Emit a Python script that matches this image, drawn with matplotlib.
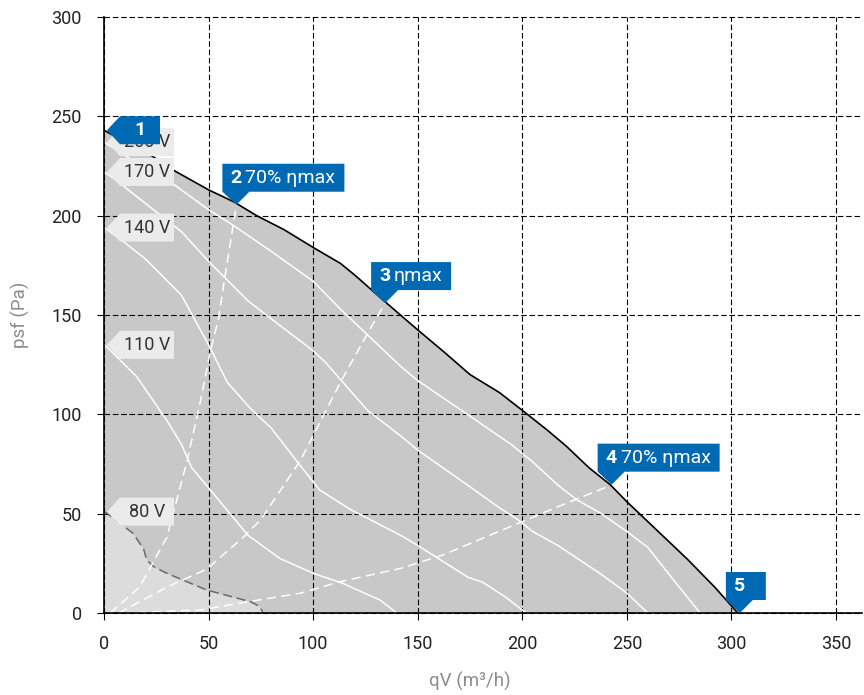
import numpy as np
import matplotlib.pyplot as plt
from matplotlib.patches import Polygon
from matplotlib.transforms import IdentityTransform

plt.rcParams['font.family'] = ['Roboto', 'DejaVu Sans']

# 230 V (max) curve
max_x = [0, 12, 23, 33, 50, 62, 73, 86, 100, 113, 120, 134, 150, 163, 175, 189, 200, 212, 221, 232, 242,
         250, 262, 279, 292, 303]
max_y = [243, 236, 230, 223, 213, 207, 200, 193, 184, 176, 170, 157, 142.5, 131, 120, 111, 102, 92, 84, 73,
         64.6, 56, 44, 27, 13, 0]

# voltage curves (white)
v200_x = [0, 15, 33, 50, 62, 80, 100, 113, 128, 142, 150, 173, 195, 205, 217, 226, 237, 250, 260, 272, 285]
v200_y = [237, 227, 216, 203, 195, 182, 167, 153, 138, 124, 117, 100.5, 84.6, 76, 64.4, 57, 50.5, 41, 33, 17, 0]
v170_x = [0, 5, 20, 37, 50, 69, 85, 100, 106, 126, 142, 150, 173, 189, 197, 205, 217, 237, 250, 260]
v170_y = [222, 218.5, 206, 192, 177, 157, 144, 132, 126, 102, 89, 82, 65, 53, 47.6, 41, 34, 20, 10, 0]
v140_x = [0, 8, 20, 37, 50, 59, 70, 80, 94, 103, 118, 142, 150, 174, 181, 192, 200, 202]
v140_y = [194, 188, 178, 160, 135, 116, 103, 93, 74, 62, 52, 39, 34, 18, 15.5, 8, 1.5, 0]
v110_x = [0, 1.3, 15.6, 30, 37, 42, 50, 61, 69, 84, 100, 114, 132, 140]
v110_y = [135, 134, 119, 97, 85, 73, 63, 49, 39, 27.5, 20, 15, 6.5, 0]
v80_x = [0, 1.3, 14, 19, 20.4, 23.6, 30, 49, 70, 74.6, 76]
v80_y = [51, 50.3, 40, 32, 26.8, 23.4, 20, 11.6, 5.7, 3.2, 0]

# efficiency lines (white dashed)
eff70a_x = [3, 17, 30, 39.5, 46, 50.7, 54.7, 57.5, 63.3]
eff70a_y = [0, 13, 38, 75.6, 106, 131, 148, 167, 205.5]
effmax_x = [7, 30, 49, 66.5, 75, 94, 113, 124, 134.4]
effmax_y = [0, 13, 22, 38, 47, 77, 116, 137, 156]
eff70b_x = [9, 46, 69, 94, 113, 142, 162, 200, 217, 237, 242.7]
eff70b_y = [0, 1.5, 5.7, 10, 15.8, 22.5, 29.2, 46, 53.5, 62, 64.6]

volt_labels = ['200 V', '170 V', '140 V', '110 V', '80 V']
volt_start = [v200_y[0], v170_y[0], v140_y[0], v110_y[0], v80_y[0]]

# operating points
op_x = [0, 63.3, 134.4, 242.7, 304]
op_y = [243, 205.5, 156, 64.6, 0]
op_num = ['1', '2', '3', '4', '5']
op_text = ['', '70% ηmax', 'ηmax', '70% ηmax', '']
op_width = [40, 122, 80, 122, 40]

blue = '#0069b4'

fig = plt.figure(figsize=(8.64, 6.95), dpi=100)
ax = fig.add_axes([104 / 864, 1 - 613 / 695, (862 - 104) / 864, (613 - 17) / 695])
ax.set_xlim(0, 362.4)
ax.set_ylim(0, 300)

ax.fill_between(max_x, max_y, 0, color='#c8c8c8', lw=0, zorder=1)
ax.fill_between(v80_x, v80_y, 0, color='#dcdcdc', lw=0, zorder=1.1)

for xs, ys in [(v200_x, v200_y), (v170_x, v170_y), (v140_x, v140_y), (v110_x, v110_y)]:
    ax.plot(xs, ys, color='white', lw=1.1, zorder=2)
ax.plot(v80_x, v80_y, color='#6a6a6a', lw=1.1, dashes=(6, 3), zorder=2)
for xs, ys in [(eff70a_x, eff70a_y), (effmax_x, effmax_y), (eff70b_x, eff70b_y)]:
    ax.plot(xs, ys, color='white', lw=1.1, dashes=(6, 3.5), zorder=2)
ax.plot(max_x, max_y, color='black', lw=1.2, zorder=3)

ax.set_xticks(np.arange(0, 351, 50))
ax.set_yticks(np.arange(0, 301, 50))
ax.set_axisbelow('line')
ax.grid(True, color='black', lw=0.8, linestyle=(0, (5, 2.5)))
for gl in ax.get_ygridlines() + ax.get_xgridlines():
    gl.set_clip_on(False)
for s in ['top', 'right']:
    ax.spines[s].set_visible(False)
for s in ['left', 'bottom']:
    ax.spines[s].set_linewidth(1.2)
ax.tick_params(length=5, width=0.8, pad=11, labelsize=13, labelcolor='#222222')

ax.set_xlabel('qV (m³/h)', fontsize=13.5, color='#8c8c8c')
ax.set_ylabel('psf (Pa)', fontsize=13.5, color='#8c8c8c')
ax.xaxis.set_label_coords(0.483, -0.099)
ax.yaxis.set_label_coords(-0.097, 0.5)

ident = IdentityTransform()

# voltage tags (light grey, pointing left)
for lab, yv in zip(volt_labels, volt_start):
    tx, ty = ax.transData.transform((0, yv))
    tx += 3
    poly = Polygon([(tx, ty), (tx + 13, ty + 14), (tx + 67, ty + 14), (tx + 67, ty - 14), (tx + 13, ty - 14)],
                   closed=True, transform=ident, facecolor='#ebebeb', edgecolor='none', zorder=5)
    fig.add_artist(poly)
    fig.text(tx + 40, ty, lab, transform=ident, ha='center', va='center', fontsize=13, color='#333333', zorder=6)

# blue callouts
for i in range(len(op_x)):
    tx, ty = ax.transData.transform((op_x[i], op_y[i]))
    if i == 0:
        tx += 3
        pts = [(tx, ty), (tx + 13, ty + 14), (tx + 53, ty + 14), (tx + 53, ty - 14), (tx + 13, ty - 14)]
        fig.add_artist(Polygon(pts, closed=True, transform=ident, facecolor=blue, edgecolor='none', zorder=7))
        fig.text(tx + 33, ty, op_num[i], transform=ident, ha='center', va='center', fontsize=14,
                 fontweight='bold', color='white', zorder=8)
        continue
    left = tx - 14
    bottom = ty + 13
    top = bottom + 28
    right = left + op_width[i]
    pts = [(left, top), (right, top), (right, bottom), (left + 27, bottom), (tx, ty), (left, bottom)]
    fig.add_artist(Polygon(pts, closed=True, transform=ident, facecolor=blue, edgecolor='none', zorder=7))
    fig.text(left + 8, bottom + 14, op_num[i], transform=ident, ha='left', va='center', fontsize=14,
             fontweight='bold', color='white', zorder=8)
    if op_text[i]:
        fig.text(left + 23, bottom + 14, op_text[i], transform=ident, ha='left', va='center', fontsize=14,
                 color='white', zorder=8)

fig.savefig('out.png', dpi=100)
